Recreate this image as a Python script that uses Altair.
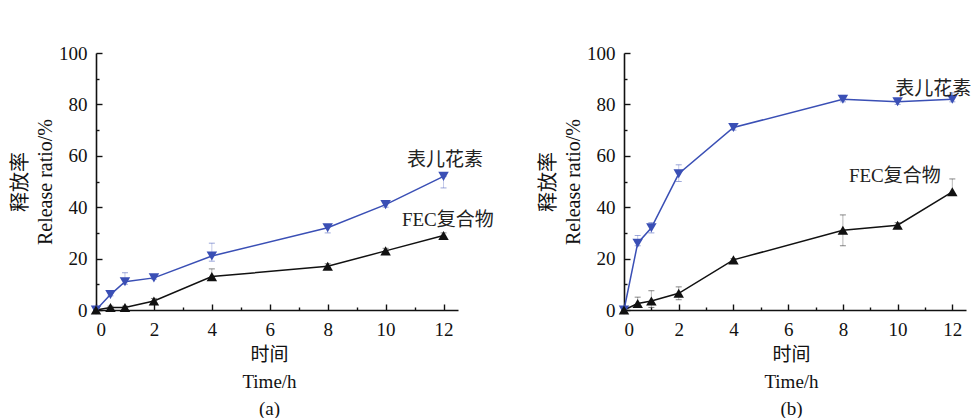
import altair as alt
import pandas as pd

# ---------------- data ----------------
time_h = [0, 0.5, 1, 2, 4, 8, 10, 12]
series_names = ["表儿花素", "FEC复合物"]

# panel (a)
a_anth = [0, 6, 11, 12.5, 21, 32, 41, 52]
a_anth_hi = [0, 6.5, 14.5, 13.5, 26, 33, 42, 52]
a_anth_lo = [0, 5.5, 10, 12, 19, 30, 40, 47.5]
a_fec = [0, 1, 1, 3.5, 13, 17, 23, 29]
a_fec_hi = [0, 1.5, 1.5, 4.5, 16, 18, 24, 30]
a_fec_lo = [0, 0.5, 0.5, 2.5, 12, 16, 22, 28]

# panel (b)
b_anth = [0, 26, 32, 53, 71, 82, 81, 82]
b_anth_hi = [0, 29, 34, 56.5, 72, 83.5, 81.5, 84.5]
b_anth_lo = [0, 25, 30, 50, 70, 81, 80, 81]
b_fec = [0, 2.5, 3.5, 6.5, 19.5, 31, 33, 46]
b_fec_hi = [0, 5, 7.5, 9, 20, 37, 34, 51]
b_fec_lo = [0, 1, 1, 4, 19, 25, 32, 45]

# annotation positions (data units)
a_label_x = [12.05, 12.15]
a_label_y = [58.2, 35.2]
b_label_x = [11.3, 9.9]
b_label_y = [85.8, 52.3]

x_tick_values = list(range(13))
y_tick_values = list(range(0, 101, 10))
y_title = ["释放率", "Release ratio/%"]
panel_tags = ["(a)", "(b)"]

BLUE = "#3a4fb5"
BLACK = "#111111"
SERIF = "Liberation Serif"
MIXED = "Liberation Serif, Noto Sans CJK SC"


def panel(anth, anth_lo, anth_hi, fec, fec_lo, fec_hi, lab_x, lab_y, tag, w, h, title_shift):
    rows = []
    for name, ys, lo, hi in [(series_names[0], anth, anth_lo, anth_hi),
                             (series_names[1], fec, fec_lo, fec_hi)]:
        for t, y, l, u in zip(time_h, ys, lo, hi):
            rows.append({"t": t, "y": y, "lo": l, "hi": u, "s": name})
    df = pd.DataFrame(rows)
    lab = pd.DataFrame({"x": lab_x, "y": lab_y, "text": series_names})

    color = alt.Color("s:N", scale=alt.Scale(domain=series_names, range=[BLUE, BLACK]), legend=None)
    shape = alt.Shape("s:N", scale=alt.Scale(domain=series_names, range=["triangle-down", "triangle-up"]), legend=None)

    x_axis = alt.Axis(values=x_tick_values, grid=False,
                      labelExpr="datum.value % 2 === 0 ? datum.label : ''",
                      tickSize={"condition": {"test": "datum.value % 2 === 0", "value": -6}, "value": -3},
                      labelPadding=16, labelFont=SERIF, labelFontSize=19,
                      title=["时间", "Time/h", tag],
                      titleFont=MIXED, titleFontSize=19, titleFontWeight="normal",
                      titleLineHeight=27, titlePadding=6,
                      titleX=w / 2 + title_shift)
    y_axis = alt.Axis(values=y_tick_values, grid=False,
                      labelExpr="datum.value % 20 === 0 ? datum.label : ''",
                      tickSize={"condition": {"test": "datum.value % 20 === 0", "value": -6}, "value": -3},
                      labelPadding=15, labelFont=SERIF, labelFontSize=19,
                      title=y_title,
                      titleFont=MIXED, titleFontSize=20, titleFontWeight="normal",
                      titleLineHeight=25, titlePadding=3)
    xs = alt.Scale(domain=[0, 12.5], nice=False)
    ys_ = alt.Scale(domain=[0, 100], nice=False)

    base = alt.Chart(df)
    err = base.mark_rule(strokeWidth=1, opacity=0.3).encode(
        x=alt.X("t:Q", scale=xs, axis=x_axis),
        y=alt.Y("lo:Q", scale=ys_, axis=y_axis), y2="hi:Q", color=color)
    cap_hi = base.mark_tick(orient="horizontal", size=6, thickness=1, opacity=0.5).encode(
        x=alt.X("t:Q", scale=xs, axis=x_axis), y=alt.Y("hi:Q", scale=ys_, axis=y_axis), color=color)
    cap_lo = base.mark_tick(orient="horizontal", size=6, thickness=1, opacity=0.5).encode(
        x=alt.X("t:Q", scale=xs, axis=x_axis), y=alt.Y("lo:Q", scale=ys_, axis=y_axis), color=color)
    line = base.mark_line(strokeWidth=1.5).encode(
        x=alt.X("t:Q", scale=xs, axis=x_axis), y=alt.Y("y:Q", scale=ys_, axis=y_axis),
        color=color, detail="s:N")
    pts = base.mark_point(filled=True, size=110, opacity=1).encode(
        x=alt.X("t:Q", scale=xs, axis=x_axis), y=alt.Y("y:Q", scale=ys_, axis=y_axis),
        color=color, shape=shape)
    txt = alt.Chart(lab).mark_text(font=MIXED, fontSize=19, color="#222222").encode(
        x=alt.X("x:Q", scale=xs, axis=x_axis), y=alt.Y("y:Q", scale=ys_, axis=y_axis), text="text:N")
    return alt.layer(err, cap_hi, cap_lo, line, pts, txt).properties(width=w, height=h)


left = panel(a_anth, a_anth_lo, a_anth_hi, a_fec, a_fec_lo, a_fec_hi,
             a_label_x, a_label_y, panel_tags[0], 362, 257, -8)
right = panel(b_anth, b_anth_lo, b_anth_hi, b_fec, b_fec_lo, b_fec_hi,
              b_label_x, b_label_y, panel_tags[1], 342, 257, -4)

chart = alt.hconcat(left, right, spacing=166, bounds="flush").properties(
    padding={"left": 10, "top": 44, "right": 0, "bottom": 0},
    background="white",
).configure_view(stroke=None).configure_axis(
    domainColor="#111111", domainWidth=1.6, tickColor="#111111", tickWidth=1.4,
    labelColor="#111111", titleColor="#111111",
    labelFont=SERIF, labelFontSize=19, titleFont=MIXED, titleFontWeight="normal",
)

chart.save("out.html", embed_options={"renderer": "svg", "actions": False})
